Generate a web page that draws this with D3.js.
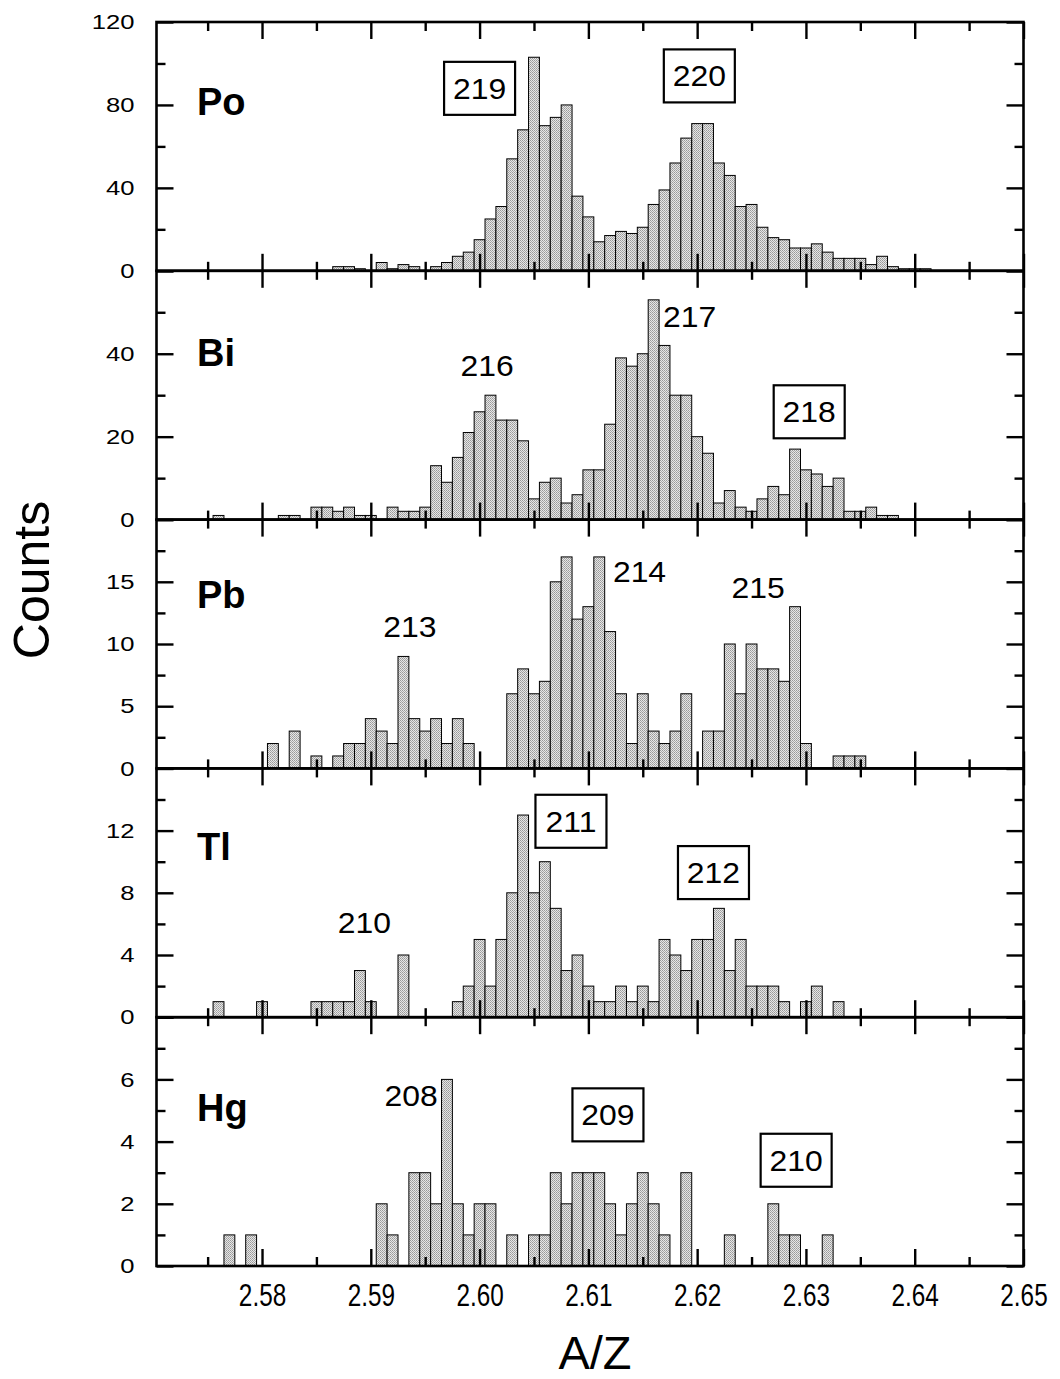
<!DOCTYPE html>
<html>
<head>
<meta charset="utf-8">
<script src="https://cdn.jsdelivr.net/npm/d3@7"></script>
<style>
  body { margin: 0; background: #fff; }
  svg { display: block; font-family: "Liberation Sans", Arial, Helvetica, sans-serif; }
</style>
</head>
<body>
<svg id="chart" width="1060" height="1379"></svg>
<script>
// A/Z bin centres, bin width 0.001
const binCenters = [
  2.575, 2.576, 2.577, 2.578, 2.579, 2.580, 2.581, 2.582, 2.583, 2.584,
  2.585, 2.586, 2.587, 2.588, 2.589, 2.590, 2.591, 2.592, 2.593, 2.594,
  2.595, 2.596, 2.597, 2.598, 2.599, 2.600, 2.601, 2.602, 2.603, 2.604,
  2.605, 2.606, 2.607, 2.608, 2.609, 2.610, 2.611, 2.612, 2.613, 2.614,
  2.615, 2.616, 2.617, 2.618, 2.619, 2.620, 2.621, 2.622, 2.623, 2.624,
  2.625, 2.626, 2.627, 2.628, 2.629, 2.630, 2.631, 2.632, 2.633, 2.634,
  2.635, 2.636, 2.637, 2.638, 2.639, 2.640, 2.641
];

const poCounts = [
  0, 0, 0, 0, 0, 0, 0, 0, 0, 0,
  0, 0, 2, 2, 1, 0, 4, 1, 3, 2,
  0, 2, 4, 7, 9, 15, 25, 31, 54, 68,
  103, 70, 74, 80, 36, 26, 14, 17, 19, 18,
  21, 32, 39, 52, 64, 71, 71, 52, 46, 31,
  32, 21, 16, 15, 11, 11, 13, 9, 6, 6,
  6, 3, 7, 2, 1, 1, 1
];
const biCounts = [
  0, 1, 0, 0, 0, 0, 0, 1, 1, 0,
  3, 3, 2, 3, 1, 1, 0, 3, 2, 2,
  3, 13, 9, 15, 21, 26, 30, 24, 24, 19,
  5, 9, 10, 4, 6, 12, 12, 23, 39, 37,
  40, 53, 42, 30, 30, 20, 16, 4, 7, 3,
  2, 5, 8, 6, 17, 12, 11, 8, 10, 2,
  2, 3, 1, 1, 0, 0, 0
];
const pbCounts = [
  0, 0, 0, 0, 0, 0, 2, 0, 3, 0,
  1, 0, 1, 2, 2, 4, 3, 2, 9, 4,
  3, 4, 2, 4, 2, 0, 0, 0, 6, 8,
  6, 7, 15, 17, 12, 13, 17, 11, 6, 2,
  6, 3, 2, 3, 6, 0, 3, 3, 10, 6,
  10, 8, 8, 7, 13, 2, 0, 0, 1, 1,
  1, 0, 0, 0, 0, 0, 0
];
const tlCounts = [
  0, 1, 0, 0, 0, 1, 0, 0, 0, 0,
  1, 1, 1, 1, 3, 1, 0, 0, 4, 0,
  0, 0, 0, 1, 2, 5, 2, 5, 8, 13,
  8, 10, 7, 3, 4, 2, 1, 1, 2, 1,
  2, 1, 5, 4, 3, 5, 5, 7, 3, 5,
  2, 2, 2, 1, 0, 1, 2, 0, 1, 0,
  0, 0, 0, 0, 0, 0, 0
];
const hgCounts = [
  0, 0, 1, 0, 1, 0, 0, 0, 0, 0,
  0, 0, 0, 0, 0, 0, 2, 1, 0, 3,
  3, 2, 6, 2, 1, 2, 2, 0, 1, 0,
  1, 1, 3, 2, 3, 3, 3, 2, 1, 2,
  3, 2, 1, 0, 3, 0, 0, 0, 1, 0,
  0, 0, 2, 1, 1, 0, 0, 1, 0, 0,
  0, 0, 0, 0, 0, 0, 0
];

const elements = ['Po', 'Bi', 'Pb', 'Tl', 'Hg'];
const yMaxima = [120, 60, 20, 16, 8];
const poTicks = [0, 40, 80, 120], poMinor = [20, 60, 100];
const biTicks = [0, 20, 40], biMinor = [10, 30, 50];
const pbTicks = [0, 5, 10, 15], pbMinor = [2.5, 7.5, 12.5, 17.5];
const tlTicks = [0, 4, 8, 12], tlMinor = [2, 6, 10, 14];
const hgTicks = [0, 2, 4, 6], hgMinor = [1, 3, 5, 7];
const azTicks = [2.58, 2.59, 2.60, 2.61, 2.62, 2.63, 2.64, 2.65];
const azMinor = [2.575, 2.585, 2.595, 2.605, 2.615, 2.625, 2.635, 2.645];

// mass-number labels: panel, text, A/Z, counts, boxed
const isotopes = [
  ['Po', '219', 2.6000, 88, true],
  ['Po', '220', 2.6202, 94, true],
  ['Bi', '216', 2.6007, 34.7, false],
  ['Bi', '217', 2.6193, 46.5, false],
  ['Bi', '218', 2.6303, 26, true],
  ['Pb', '213', 2.5936, 10.6, false],
  ['Pb', '214', 2.6147, 15, false],
  ['Pb', '215', 2.6256, 13.7, false],
  ['Tl', '210', 2.5894, 5.4, false],
  ['Tl', '211', 2.6084, 12.6, true],
  ['Tl', '212', 2.6215, 9.3, true],
  ['Hg', '208', 2.5937, 5.15, false],
  ['Hg', '209', 2.6118, 4.86, true],
  ['Hg', '210', 2.6291, 3.4, true]
];

const countsByPanel = [poCounts, biCounts, pbCounts, tlCounts, hgCounts];
const ticksByPanel = [poTicks, biTicks, pbTicks, tlTicks, hgTicks];
const minorByPanel = [poMinor, biMinor, pbMinor, tlMinor, hgMinor];
const nameOffset = [93, 95, 88, 92, 104];

const svg = d3.select('#chart');
const plotLeft = 156.5, plotRight = 1023.5, plotTop = 22, plotBottom = 1266;
const panelH = (plotBottom - plotTop) / elements.length;
const binW = 0.001;
const MAJOR = 17, MINOR = 9;

const x = d3.scaleLinear().domain([2.5703, 2.65]).range([plotLeft, plotRight]);

// stipple fill like the printed halftone
const pat = svg.append('defs').append('pattern')
  .attr('id', 'stipple').attr('width', 2).attr('height', 2)
  .attr('patternUnits', 'userSpaceOnUse');
pat.append('rect').attr('width', 2).attr('height', 2).attr('fill', '#e6e6e6');
pat.append('rect').attr('width', 1).attr('height', 1).attr('fill', '#999');
pat.append('rect').attr('x', 1).attr('y', 1).attr('width', 1).attr('height', 1).attr('fill', '#aaa');

function styleTicks(g) {
  g.select('.domain').remove();
  g.selectAll('line').attr('stroke', '#000').attr('stroke-width', 2.4);
}

elements.forEach((el, p) => {
  const top = plotTop + p * panelH, bottom = top + panelH;
  const y = d3.scaleLinear().domain([0, yMaxima[p]]).range([bottom, top]);
  const g = svg.append('g').attr('class', 'panel panel-' + el);

  const bins = binCenters.map((c, i) => ({c: c, n: countsByPanel[p][i]})).filter(d => d.n > 0);
  g.selectAll('rect.bar').data(bins).join('rect')
    .attr('class', 'bar')
    .attr('x', d => x(d.c - binW / 2))
    .attr('width', d => x(d.c + binW / 2) - x(d.c - binW / 2))
    .attr('y', d => y(d.n))
    .attr('height', d => y(0) - y(d.n))
    .attr('fill', 'url(#stipple)')
    .attr('stroke', '#000')
    .attr('stroke-width', 1);

  g.append('rect')
    .attr('x', plotLeft).attr('y', top)
    .attr('width', plotRight - plotLeft).attr('height', panelH)
    .attr('fill', 'none').attr('stroke', '#000').attr('stroke-width', 2.6);

  const labelled = ticksByPanel[p];
  const majors = labelled.concat([yMaxima[p]]).filter((v, i, a) => a.indexOf(v) === i);

  const left = g.append('g').attr('transform', 'translate(' + plotLeft + ',0)')
    .call(d3.axisLeft(y).tickValues(majors).tickSize(-MAJOR).tickPadding(22)
      .tickFormat(d => labelled.includes(d) ? d3.format('d')(d) : ''));
  styleTicks(left);
  left.selectAll('text')
    .attr('font-size', 21)
    .attr('fill', '#000')
    .attr('font-family', '"Liberation Sans", Arial, sans-serif')
    .attr('transform', function () { return 'translate(' + this.getAttribute('x') + ',0) scale(1.22,1)'; })
    .attr('x', 0);

  g.append('g').attr('transform', 'translate(' + plotLeft + ',0)')
    .call(d3.axisLeft(y).tickValues(minorByPanel[p]).tickSize(-MINOR).tickFormat(''))
    .call(styleTicks);
  g.append('g').attr('transform', 'translate(' + plotRight + ',0)')
    .call(d3.axisRight(y).tickValues(majors).tickSize(-MAJOR).tickFormat(''))
    .call(styleTicks);
  g.append('g').attr('transform', 'translate(' + plotRight + ',0)')
    .call(d3.axisRight(y).tickValues(minorByPanel[p]).tickSize(-MINOR).tickFormat(''))
    .call(styleTicks);

  g.append('g').attr('transform', 'translate(0,' + top + ')')
    .call(d3.axisTop(x).tickValues(azTicks).tickSize(-MAJOR).tickFormat(''))
    .call(styleTicks);
  g.append('g').attr('transform', 'translate(0,' + top + ')')
    .call(d3.axisTop(x).tickValues(azMinor).tickSize(-MINOR).tickFormat(''))
    .call(styleTicks);
  const bottomAxis = g.append('g').attr('transform', 'translate(0,' + bottom + ')')
    .call(d3.axisBottom(x).tickValues(azTicks).tickSize(-MAJOR).tickPadding(17)
      .tickFormat(p === elements.length - 1 ? d3.format('.2f') : ''));
  styleTicks(bottomAxis);
  bottomAxis.selectAll('.tick text')
    .attr('font-size', 32)
    .attr('fill', '#000')
    .attr('font-family', '"Liberation Sans", Arial, sans-serif')
    .attr('transform', 'scale(0.76,1)')
    .attr('dy', '0.71em');
  g.append('g').attr('transform', 'translate(0,' + bottom + ')')
    .call(d3.axisBottom(x).tickValues(azMinor).tickSize(-MINOR).tickFormat(''))
    .call(styleTicks);

  // element name
  g.append('text')
    .attr('x', 197).attr('y', top + nameOffset[p])
    .attr('font-size', 38).attr('font-weight', 'bold')
    .text(el);

  // mass-number annotations
  isotopes.filter(a => a[0] === el).forEach(a => {
    const cx = x(a[2]), cy = y(a[3]);
    if (a[4]) {
      g.append('rect')
        .attr('x', cx - 35.5).attr('y', cy - 26.5)
        .attr('width', 71).attr('height', 53)
        .attr('fill', '#fff').attr('stroke', '#000').attr('stroke-width', 2.2);
    }
    g.append('text')
      .attr('text-anchor', 'middle')
      .attr('font-size', 29)
      .attr('transform', 'translate(' + cx + ',' + cy + ') scale(1.1,1)')
      .attr('dy', a[4] ? '0.36em' : 0)
      .text(a[1]);
  });
});

svg.append('text')
  .attr('transform', 'translate(49,580) rotate(-90)')
  .attr('text-anchor', 'middle')
  .attr('font-size', 50)
  .text('Counts');

svg.append('text')
  .attr('x', 595).attr('y', 1369)
  .attr('text-anchor', 'middle')
  .attr('font-size', 47)
  .text('A/Z');
</script>
</body>
</html>
